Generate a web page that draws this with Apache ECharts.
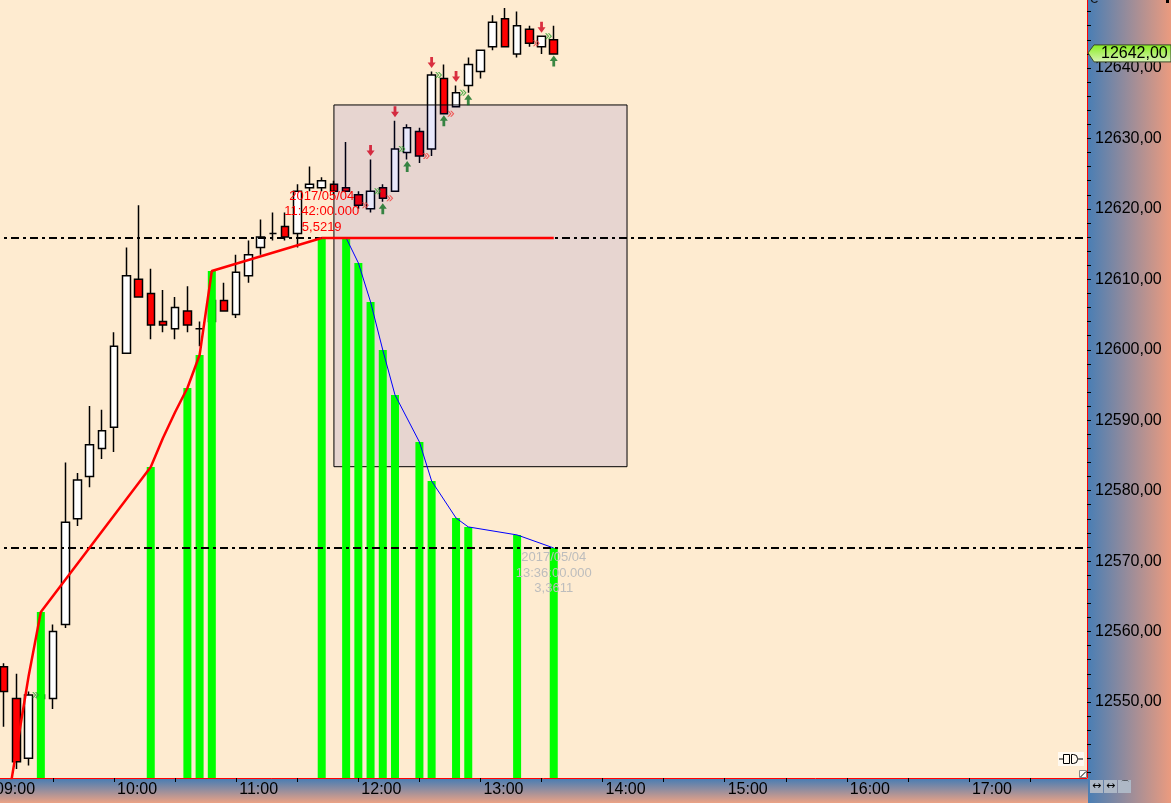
<!DOCTYPE html>
<html>
<head>
<meta charset="utf-8">
<script src="https://cdn.jsdelivr.net/npm/echarts@6/dist/echarts.min.js"></script>
<style>
html,body{margin:0;padding:0;background:#FEEBD0;}
#c{width:1171px;height:803px;}
</style>
</head>
<body>
<div id="c"></div>
<script>
// ---------- DATA ----------
const annotDate = '2017/05/04';
const candleTimes = ['09:06','09:12','09:18','09:24','09:30','09:36','09:42','09:48','09:54','10:00',
  '10:06','10:12','10:18','10:24','10:30','10:36','10:42','10:48','10:54','11:00',
  '11:06','11:12','11:18','11:24','11:30','11:36','11:42','11:48','11:54','12:00',
  '12:06','12:12','12:18','12:24','12:30','12:36','12:42','12:48','12:54','13:00',
  '13:06','13:12','13:18','13:24','13:30','13:36'];
const opens  = [12555.0,12550.5,12542.0,12550.5,12550.5,12561.0,12576.0,12582.0,12586.0,12589.0,
  12599.5,12610.0,12608.0,12604.0,12603.0,12605.5,12603.0,12604.0,12607.0,12605.0,
  12610.5,12614.5,12616.5,12617.5,12616.5,12623.0,12623.0,12623.5,12623.0,12622.0,
  12620.0,12623.0,12622.5,12628.0,12631.0,12628.5,12638.5,12634.5,12637.5,12639.5,
  12643.0,12647.0,12642.0,12645.5,12643.0,12644.0];
const closes = [12551.5,12541.5,12551.0,12551.0,12560.0,12575.5,12581.5,12586.5,12588.5,12600.5,
  12610.5,12607.5,12603.5,12603.5,12606.0,12603.5,12603.0,12607.0,12605.5,12611.0,
  12613.5,12616.0,12616.5,12616.0,12622.5,12623.5,12624.0,12622.5,12622.5,12620.5,
  12622.5,12621.5,12628.5,12631.5,12627.5,12639.0,12633.5,12636.5,12640.5,12642.5,
  12646.5,12643.0,12646.0,12643.5,12644.5,12642.0];
const lows   = [12546.5,12540.5,12541.0,12550.0,12549.0,12560.5,12575.0,12580.5,12584.5,12585.5,
  12599.5,12607.5,12601.5,12602.5,12601.5,12602.5,12600.5,12603.5,12605.5,12604.5,
  12609.5,12613.5,12615.5,12615.5,12614.5,12622.5,12622.5,12622.0,12622.5,12620.0,
  12619.5,12621.0,12622.5,12627.0,12626.5,12627.5,12633.5,12634.5,12636.5,12638.5,
  12642.5,12643.0,12641.5,12643.0,12642.0,12642.0];
const highs  = [12555.5,12554.0,12551.5,12551.5,12561.0,12584.0,12582.5,12592.0,12591.5,12602.5,
  12614.5,12620.5,12611.5,12608.5,12607.5,12609.0,12604.0,12607.5,12609.5,12613.5,
  12615.5,12618.5,12619.5,12619.5,12623.5,12626.0,12624.5,12624.0,12629.5,12622.5,
  12627.0,12623.5,12632.5,12632.0,12631.5,12639.5,12640.5,12637.5,12641.5,12642.5,
  12647.5,12648.5,12648.0,12646.0,12644.5,12646.0];

// indicator (green bars)
const barTimes  = ['09:24','10:18','10:36','10:42','10:48','11:42','11:54','12:00','12:06','12:12',
  '12:18','12:30','12:36','12:48','12:54','13:18','13:36'];
const barValues = [2.915,3.926,4.476,4.706,5.292,5.5219,5.5219,5.348,5.076,4.741,
  4.428,4.100,3.828,3.570,3.508,3.452,3.3611];
// rising red line
const redTimes  = ['09:06','09:12','09:18','09:24','10:18','10:24','10:30','10:36','10:42','10:48','11:42'];
const redValues = [1.437,1.953,2.469,2.915,3.926,4.128,4.309,4.476,4.706,5.292,5.5219];
// red level line
const levelTimes = ['11:42','13:36'];
const levelValue = 5.5219;
// falling blue line
const blueTimes  = ['11:42','11:54','12:00','12:06','12:12','12:18','12:30','12:36','12:48','12:54','13:18','13:36'];
const blueValues = [5.5219,5.5219,5.348,5.076,4.741,4.428,4.100,3.828,3.570,3.508,3.452,3.3611];
// dash-dot levels
const hLevels = [5.5219, 3.3611];
// labelled bars
const annotTimes = ['11:42','13:36'];
// box
const boxTimes  = ['11:48','14:12'];
const boxPrices = [12634.75, 12583.4];
// signals
const downArrowTimes = ['12:06','12:18','12:36','12:48','13:30'];
const upArrowTimes   = ['12:12','12:24','12:42','12:54','13:36'];
const greenChevronTimes = ['09:18','12:06','12:18','12:36','12:48','13:30'];
const redChevronTimes   = ['12:00','12:12','12:30','12:42','13:24'];
// axes
const hourTicks = ['09:00','10:00','11:00','12:00','13:00','14:00','15:00','16:00','17:00'];
const priceLabels = [12550,12560,12570,12580,12590,12600,12610,12620,12630,12640];
const priceMin = 12539.21, priceMax = 12649.65;
const indMin = 1.758, indMax = 7.1805;

// ---------- helpers ----------
const toMin = s => { const [h,m] = s.split(':').map(Number); return (h-9)*60 + m; };
const toHHMM = v => { const h = 9 + Math.floor(v/60), m = Math.round(v%60); return String(h).padStart(2,'0')+':'+String(m).padStart(2,'0'); };
const fmtComma = (v, d) => v.toFixed(d).replace('.', ',');
const FONT = "'Liberation Sans', Arial, sans-serif";

const candleData = candleTimes.map((t,i) => [toMin(t), opens[i], closes[i], lows[i], highs[i]]);
const timeIdx = {}; candleTimes.forEach((t,i) => timeIdx[t] = i);

const annotStyles = [
  {position:'top', distance:3, color:'#FF0000'},
  {position:'insideTop', distance:2, color:'#BDBDBD'}
];
const barData = barTimes.map((t,i) => {
  const a = annotTimes.indexOf(t);
  const item = {value:[toMin(t), barValues[i]]};
  if (a >= 0) {
    item.label = Object.assign({
      show:true, fontSize:13, lineHeight:15.5, fontFamily:FONT, align:'center',
      formatter: annotDate + '\n' + t + ':00.000\n' + fmtComma(barValues[i], 4)
    }, annotStyles[a]);
  }
  return item;
});

const hourVals = hourTicks.map(toMin);
const halfVals = []; for (let v = 0; v <= 510; v += 30) halfVals.push(v);
const priceTickVals = []; for (let v = 12540; v <= 12648; v += 2) priceTickVals.push(v);

const downPath = 'path://M2.6,0 L5.4,0 L5.4,5 L8,5 L4,10 L0,5 L2.6,5 Z';
const upPath   = 'path://M4,0 L8,5 L5.4,5 L5.4,10 L2.6,10 L2.6,5 L0,5 Z';
const chevPath = 'path://M0,0 L3,3 L0,6 L1.6,6 L4.6,3 L1.6,0 Z M3,0 L6,3 L3,6 L4.6,6 L7.6,3 L4.6,0 Z';

const chart = echarts.init(document.getElementById('c'), null, {renderer:'canvas'});
const option = {
  animation:false,
  backgroundColor:'#FEEBD0',
  grid:{left:-8, top:0, width:1095, height:778, containLabel:false, outerBoundsMode:'none'},
  xAxis:{
    type:'value', min:0, max:538, z:10,
    axisLine:{show:true, onZero:false, lineStyle:{color:'#FF0000', width:1}},
    axisTick:{show:true, length:4, lineStyle:{color:'#000'}, customValues:halfVals},
    axisLabel:{show:true, customValues:hourVals, formatter:v => toHHMM(v), align:'left',
      padding:[0,0,0,3], margin:4, fontSize:16, color:'#000', fontFamily:FONT},
    splitLine:{show:false}
  },
  yAxis:[
    {type:'value', position:'right', min:priceMin, max:priceMax, z:10,
     axisLine:{show:true, onZero:false, lineStyle:{color:'#FF0000', width:1}},
     axisTick:{show:true, length:4, lineStyle:{color:'#000'}, customValues:priceTickVals},
     axisLabel:{show:true, customValues:priceLabels, formatter:v => fmtComma(v,2), margin:8,
       fontSize:16, color:'#000', fontFamily:FONT},
     splitLine:{show:false}},
    {type:'value', min:indMin, max:indMax, show:false, axisLine:{show:false, onZero:false}, splitLine:{show:false}}
  ],
  series:[
    {type:'candlestick', name:'price', xAxisIndex:0, yAxisIndex:0, z:2, barWidth:8,
     dimensions:['t','open','close','lowest','highest'],
     encode:{x:'t', y:['open','close','lowest','highest']},
     itemStyle:{color:'#FFFFFF', color0:'#FF0000', borderColor:'#000000', borderColor0:'#000000', borderColorDoji:'#000000', borderWidth:1.5},
     data:candleData},
    {type:'line', name:'box', xAxisIndex:0, yAxisIndex:0, z:3, data:[], silent:true,
     markArea:{silent:true, z:3,
       itemStyle:{color:'rgba(0,0,215,0.09)', borderColor:'#000', borderWidth:1},
       label:{show:false},
       data:[[{coord:[toMin(boxTimes[0]), boxPrices[0]]},{coord:[toMin(boxTimes[1]), boxPrices[1]]}]]}},
    {type:'bar', name:'ind', xAxisIndex:0, yAxisIndex:1, z:4, barWidth:8, clip:true,
     itemStyle:{color:'#00FF00'}, data:barData},
    {type:'line', name:'rise', xAxisIndex:0, yAxisIndex:1, z:6, clip:true, symbol:'none',
     lineStyle:{color:'#FF0000', width:2.5}, data:redTimes.map((t,i)=>[toMin(t), redValues[i]])},
    {type:'line', name:'fall', xAxisIndex:0, yAxisIndex:1, z:6, clip:true, symbol:'none',
     lineStyle:{color:'#0000FF', width:1}, data:blueTimes.map((t,i)=>[toMin(t), blueValues[i]]),
     markLine:{silent:true, z:5, symbol:'none', label:{show:false},
       lineStyle:{color:'#000000', width:2, type:[8,4,3,4]},
       data:hLevels.map(v=>({yAxis:v}))}},
    {type:'line', name:'level', xAxisIndex:0, yAxisIndex:1, z:7, clip:true, symbol:'none',
     lineStyle:{color:'#FF0000', width:2.5}, data:levelTimes.map(t=>[toMin(t), levelValue])},
    {type:'scatter', name:'sell', xAxisIndex:0, yAxisIndex:0, z:8, symbol:downPath, symbolSize:[8,11], symbolOffset:[0,-9],
     itemStyle:{color:'#D0001C'}, data:downArrowTimes.map(t=>[toMin(t), highs[timeIdx[t]]])},
    {type:'scatter', name:'buy', xAxisIndex:0, yAxisIndex:0, z:8, symbol:upPath, symbolSize:[8,11], symbolOffset:[0,7],
     itemStyle:{color:'#0A6E1E'}, data:upArrowTimes.map(t=>[toMin(t), lows[timeIdx[t]]])},
    {type:'scatter', name:'exitLong', xAxisIndex:0, yAxisIndex:0, z:8, symbol:chevPath, symbolSize:[7,6], symbolOffset:[7,0],
     itemStyle:{color:'#2E9E2E'}, data:greenChevronTimes.map(t=>[toMin(t), closes[timeIdx[t]]])},
    {type:'scatter', name:'exitShort', xAxisIndex:0, yAxisIndex:0, z:8, symbol:chevPath, symbolSize:[7,6], symbolOffset:[7,0],
     itemStyle:{color:'#F03A3A'}, data:redChevronTimes.map(t=>[toMin(t), closes[timeIdx[t]]])}
  ]
};
chart.setOption(option);

// price tag from last close via axis scale
const lastClose = closes[closes.length-1];
const ty = chart.convertToPixel({yAxisIndex:0}, lastClose);
const graphics = [
  {type:'rect', z:0, silent:true, shape:{x:0, y:779, width:1171, height:24},
   style:{fill:{type:'linear', x:0, y:0, x2:0, y2:1, colorStops:[{offset:0,color:'#4A7DB3'},{offset:1,color:'#EBA285'}]}}},
  {type:'rect', z:0, silent:true, shape:{x:1088, y:0, width:83, height:803},
   style:{fill:{type:'linear', x:0, y:0, x2:1, y2:0, colorStops:[{offset:0,color:'#4A7EB4'},{offset:1,color:'#EB9B7F'}]}}},
  {type:'text', z:11, silent:true, x:1090, y:-9, style:{text:'e', fontSize:16, fontFamily:FONT, fill:'#111'}},
  {type:'rect', z:11, silent:true, shape:{x:1166, y:0, width:3, height:3}, style:{fill:'#000'}},
  {type:'polygon', z:12, silent:true,
   shape:{points:[[1088,ty-1],[1094,ty-9],[1171,ty-9],[1171,ty+8],[1094,ty+8]]},
   style:{fill:{type:'linear', x:0, y:0, x2:0, y2:1, colorStops:[{offset:0,color:'#86EE1C'},{offset:1,color:'#D9F2B8'}]}, stroke:'#3A4A2A', lineWidth:1}},
  {type:'text', z:13, silent:true, x:1101, y:ty-0.5, style:{text:fmtComma(lastClose,2), fontSize:16, fontFamily:FONT, fill:'#000', verticalAlign:'middle'}},
  // connector icon
  {type:'rect', z:11, silent:true, shape:{x:1058, y:752, width:26, height:14}, style:{fill:'#FFF9F0'}},
  {type:'line', z:12, silent:true, shape:{x1:1059, y1:759, x2:1063, y2:759}, style:{stroke:'#000', lineWidth:1}},
  {type:'rect', z:12, silent:true, shape:{x:1063.5, y:754.5, width:6, height:9}, style:{fill:'none', stroke:'#000', lineWidth:1}},
  {type:'rect', z:12, silent:true, shape:{x:1071.5, y:754.5, width:6, height:9, r:[0,4,4,0]}, style:{fill:'none', stroke:'#000', lineWidth:1}},
  {type:'line', z:12, silent:true, shape:{x1:1078, y1:759, x2:1083, y2:759}, style:{stroke:'#000', lineWidth:1}},
  // resize box
  {type:'rect', z:11, silent:true, shape:{x:1079.5, y:770.5, width:7, height:7}, style:{fill:'#FFFFFF', stroke:'#888', lineWidth:1}},
  {type:'line', z:12, silent:true, shape:{x1:1080.5, y1:777, x2:1086, y2:771.5}, style:{stroke:'#000', lineWidth:1}},
  // buttons
  {type:'rect', z:11, silent:true, shape:{x:1090, y:780, width:13, height:13}, style:{fill:'#AEB8C6'}},
  {type:'rect', z:11, silent:true, shape:{x:1104, y:780, width:13, height:13}, style:{fill:'#AEB8C6'}},
  {type:'rect', z:11, silent:true, shape:{x:1118, y:780, width:13, height:13}, style:{fill:'#AEB8C6'}},
  {type:'text', z:12, silent:true, x:1096.5, y:786.5, style:{text:'↔', fontSize:11, fontFamily:'DejaVu Sans', fill:'#000', align:'center', verticalAlign:'middle'}},
  {type:'text', z:12, silent:true, x:1110.5, y:786.5, style:{text:'↔', fontSize:11, fontFamily:'DejaVu Sans', fill:'#000', align:'center', verticalAlign:'middle'}},
  {type:'text', z:12, silent:true, x:1124.5, y:785.5, style:{text:'⌒', fontSize:10, fontFamily:'DejaVu Sans', fill:'#000', align:'center', verticalAlign:'middle'}}
];
chart.setOption({graphic:graphics});
</script>
</body>
</html>
